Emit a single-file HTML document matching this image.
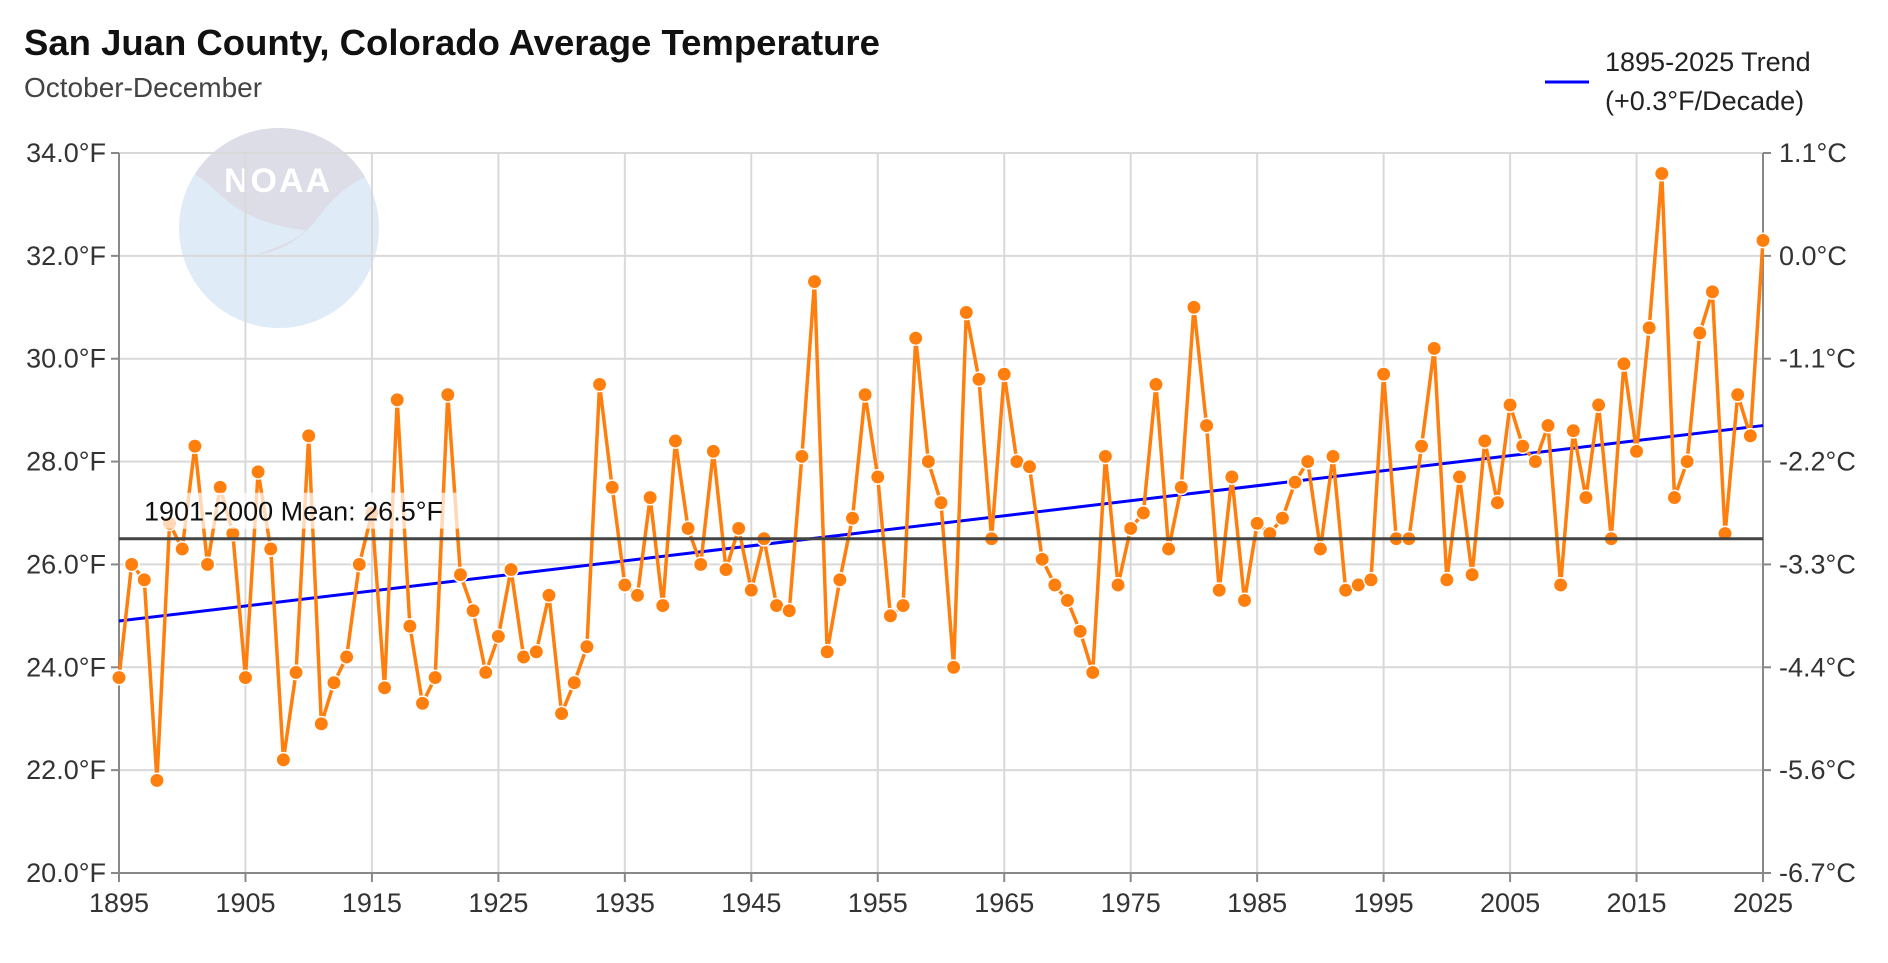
<!DOCTYPE html>
<html><head><meta charset="utf-8"><style>
body{margin:0;background:#fff;width:1888px;height:958px;overflow:hidden;font-family:"Liberation Sans",sans-serif;}
</style></head><body>
<svg id="chart" width="1888" height="958" xmlns="http://www.w3.org/2000/svg" font-family="Liberation Sans, sans-serif">
<text x="24" y="55" font-size="36.5" font-weight="bold" fill="#111">San Juan County, Colorado Average Temperature</text>
<text x="24" y="97" font-size="28" fill="#444">October-December</text>
<g>
<line x1="1545" y1="82" x2="1589" y2="82" stroke="#0000ff" stroke-width="3"/>
<text x="1605" y="71" font-size="27" fill="#222">1895-2025 Trend</text>
<text x="1605" y="110" font-size="27" fill="#222">(+0.3°F/Decade)</text>
</g>
<g>
<defs><clipPath id="lc"><circle cx="279" cy="228" r="100"/></clipPath></defs>
<circle cx="279" cy="228" r="100" fill="#dfebf6"/>
<path clip-path="url(#lc)" d="M170,120 L390,120 L390,170 Q350,175 320,215 Q295,250 255,255 Q300,240 305,230 Q250,225 215,190 Q195,170 170,165Z" fill="#dcdde6"/>
<text x="278" y="192" font-size="34" font-weight="bold" fill="#fff" text-anchor="middle" letter-spacing="2">NOAA</text>
</g>
<g id="grid"></g>
<g id="marks"></g>
</svg>
<script>
const years = [];
for (let y = 1895; y <= 2025; y++) years.push(y);
const temps = [23.8,26.0,25.7,21.8,26.8,26.3,28.3,26.0,27.5,26.6,
23.8,27.8,26.3,22.2,23.9,28.5,22.9,23.7,24.2,26.0,
27.0,23.6,29.2,24.8,23.3,23.8,29.3,25.8,25.1,23.9,
24.6,25.9,24.2,24.3,25.4,23.1,23.7,24.4,29.5,27.5,
25.6,25.4,27.3,25.2,28.4,26.7,26.0,28.2,25.9,26.7,
25.5,26.5,25.2,25.1,28.1,31.5,24.3,25.7,26.9,29.3,
27.7,25.0,25.2,30.4,28.0,27.2,24.0,30.9,29.6,26.5,
29.7,28.0,27.9,26.1,25.6,25.3,24.7,23.9,28.1,25.6,
26.7,27.0,29.5,26.3,27.5,31.0,28.7,25.5,27.7,25.3,
26.8,26.6,26.9,27.6,28.0,26.3,28.1,25.5,25.6,25.7,
29.7,26.5,26.5,28.3,30.2,25.7,27.7,25.8,28.4,27.2,
29.1,28.3,28.0,28.7,25.6,28.6,27.3,29.1,26.5,29.9,
28.2,30.6,33.6,27.3,28.0,30.5,31.3,26.6,29.3,28.5,32.3];
const trendStart = 24.9, trendEnd = 28.7;
const meanValue = 26.5;
const fTicks = [20,22,24,26,28,30,32,34];
const cTickLabels = ["-6.7°C","-5.6°C","-4.4°C","-3.3°C","-2.2°C","-1.1°C","0.0°C","1.1°C"];
const xTicks = [1895,1905,1915,1925,1935,1945,1955,1965,1975,1985,1995,2005,2015,2025];

const X0=119, X1=1763, Y0=873, Y1=153;
const xs = y => X0 + (y-1895)/(2025-1895)*(X1-X0);
const ys = v => Y0 - (v-20)/(34-20)*(Y0-Y1);
const NS="http://www.w3.org/2000/svg";
function mk(tag, attrs, parent, txt){const e=document.createElementNS(NS,tag);for(const k in attrs)e.setAttribute(k,attrs[k]);if(txt!==undefined)e.textContent=txt;parent.appendChild(e);return e;}
const grid=document.getElementById('grid'), marks=document.getElementById('marks');
fTicks.forEach((v,i)=>{
  const g=mk('line',{x1:X0,x2:X1,y1:ys(v),y2:ys(v),stroke:'#d9d9d9','stroke-width':2},grid);
  
  
  mk('line',{x1:X0-8,x2:X0,y1:ys(v),y2:ys(v),stroke:'#888','stroke-width':2},grid);
  mk('line',{x1:X1,x2:X1+8,y1:ys(v),y2:ys(v),stroke:'#888','stroke-width':2},grid);
  const t=mk('text',{x:X0-13,y:ys(v)+9,'font-size':27,fill:'#333','text-anchor':'end'},grid,v.toFixed(1)+'°F');
  
  
  const c=mk('text',{x:X1+16,y:ys(v)+9,'font-size':27,fill:'#333'},grid,cTickLabels[i]);
  
  
});
xTicks.forEach(y=>{
  const g=mk('line',{x1:xs(y),x2:xs(y),y1:Y1,y2:Y0,stroke:'#d9d9d9','stroke-width':2},grid);
  
  
  mk('line',{x1:xs(y),x2:xs(y),y1:Y0,y2:Y0+9,stroke:'#888','stroke-width':2},grid);
  const t=mk('text',{x:xs(y),y:Y0+39,'font-size':27,fill:'#333','text-anchor':'middle'},grid,String(y));
  
  
});
mk('line',{x1:X0,x2:X0,y1:Y1,y2:Y0,stroke:'#888','stroke-width':2},grid);
mk('line',{x1:X1,x2:X1,y1:Y1,y2:Y0,stroke:'#888','stroke-width':2},grid);
mk('line',{x1:X0,x2:X1,y1:Y0,y2:Y0,stroke:'#888','stroke-width':2},grid);
const tl=mk('line',{x1:xs(1895),x2:xs(2025),y1:ys(trendStart),y2:ys(trendEnd),stroke:'#0000ff','stroke-width':3},marks);


const pl=mk('polyline',{points:temps.map((v,i)=>xs(years[i])+','+ys(v)).join(' '),fill:'none',stroke:'#ff7f0e','stroke-width':3.5},marks);


temps.forEach((v,i)=>{
  const c=mk('circle',{cx:xs(years[i]),cy:ys(v),r:7.2,fill:'#ff7f0e',stroke:'#fff','stroke-width':1.5},marks);
  
  
});
const ml=mk('line',{x1:X0,x2:X1,y1:ys(meanValue),y2:ys(meanValue),stroke:'#444','stroke-width':3},marks);


mk('rect',{x:140,y:ys(meanValue)-46,width:320,height:36,fill:'#fff',opacity:0.7},marks);
const mt=mk('text',{x:144,y:ys(meanValue)-18,'font-size':27,fill:'#111'},marks,'1901-2000 Mean: '+meanValue.toFixed(1)+'°F');


</script>
</body></html>
